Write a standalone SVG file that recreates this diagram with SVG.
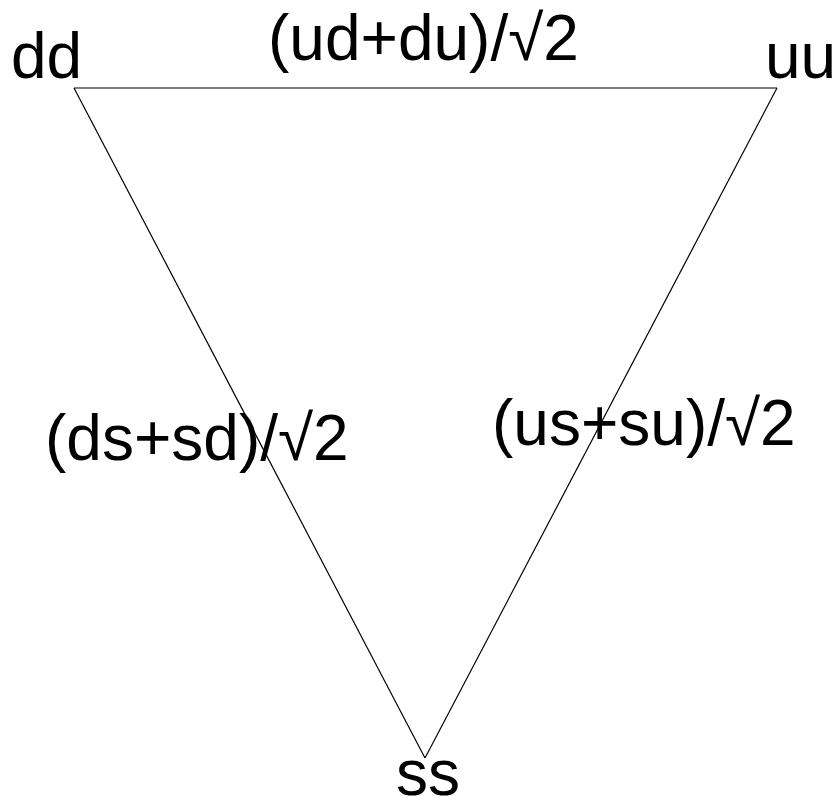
<svg xmlns="http://www.w3.org/2000/svg" width="837" height="803" viewBox="0 0 837 803">
<style>
.t{font-family:"Liberation Sans",Arial,sans-serif;font-size:64px;fill:#000}
.e{stroke:#000;stroke-width:1.2;fill:none}
</style>
<rect width="837" height="803" fill="#fff"/>
<g id="connectors">
<line class="e" x1="74" y1="88" x2="777" y2="88"/>
<line class="e" x1="74" y1="88" x2="425" y2="758"/>
<line class="e" x1="777" y1="88" x2="425" y2="758"/>
<text class="t" x="268" y="60">(ud+du)/√2</text>
<text class="t" x="45" y="460">(ds+sd)/√2</text>
<text class="t" x="492" y="445">(us+su)/√2</text>
</g>
<g id="dd"><text class="t" x="11" y="78">dd</text></g>
<g id="uu"><text class="t" x="765" y="78">uu</text></g>
<g id="ss"><text class="t" x="396" y="795">ss</text></g>
</svg>
